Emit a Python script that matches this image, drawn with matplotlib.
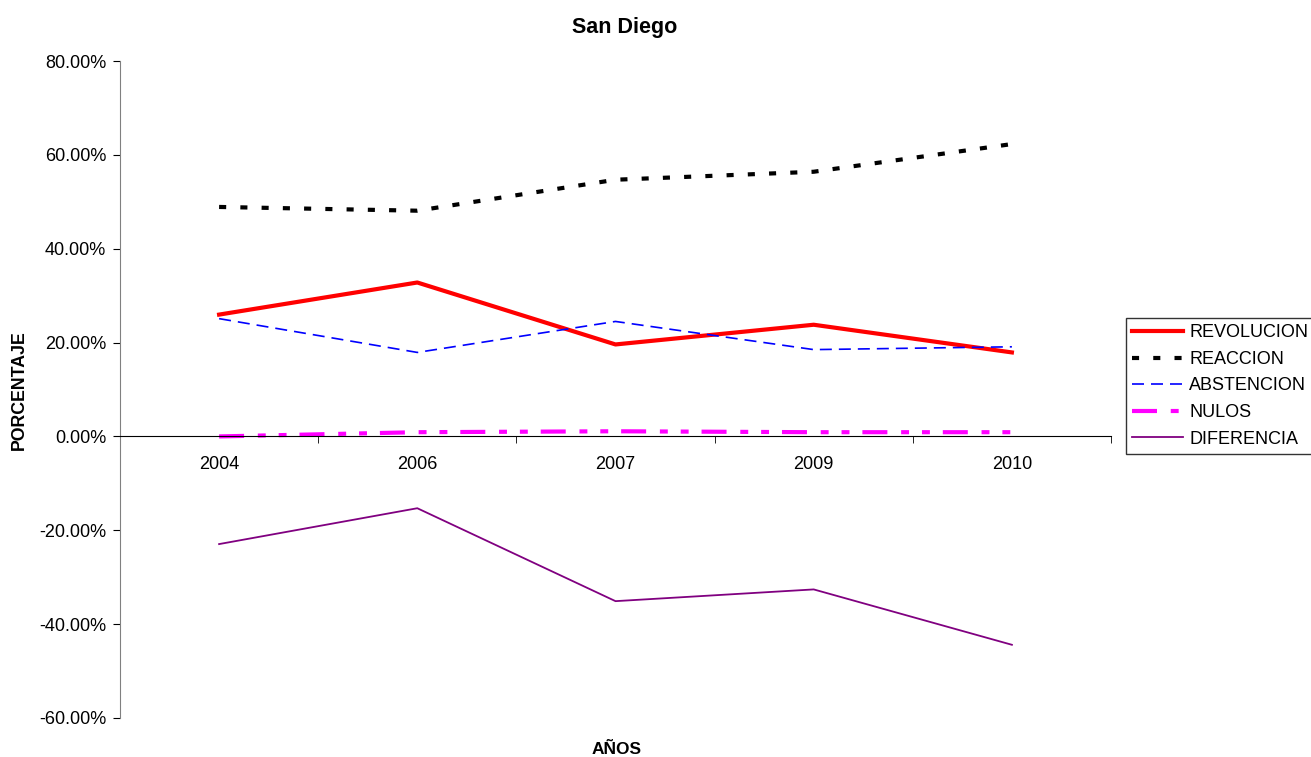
import numpy as np
import matplotlib.pyplot as plt
from matplotlib.ticker import FuncFormatter, FixedLocator

plt.rcParams['font.family'] = ['Liberation Sans', 'DejaVu Sans']

years = ['2004', '2006', '2007', '2009', '2010']
revolucion = [25.96, 32.8, 19.6, 23.8, 17.9]
reaccion = [48.9, 48.1, 54.7, 56.4, 62.3]
abstencion = [25.1, 17.9, 24.5, 18.5, 19.1]
nulos = [0.0, 0.9, 1.1, 0.9, 0.9]
diferencia = [r - a for r, a in zip(revolucion, reaccion)]

x = np.arange(len(years))

fig = plt.figure(figsize=(13.11, 7.57), dpi=100)
ax = fig.add_axes([120 / 1311, 39 / 757, 991 / 1311, 657 / 757])

ax.plot(x, revolucion, color='#ff0000', lw=3.0, label='REVOLUCION')
ax.plot(x, reaccion, color='black', lw=3.0, dashes=(1.7, 3.4), label='REACCION')
ax.plot(x, abstencion, color='#0000ff', lw=1.2, dashes=(7.2, 4.2), label='ABSTENCION')
ax.plot(x, nulos, color='#ff00ff', lw=3.0, dashes=(6, 3.3, 1.9, 3.1, 1.9, 3.1), label='NULOS')
ax.plot(x, diferencia, color='#800080', lw=1.3, label='DIFERENCIA')

ax.set_xlim(-0.5, len(years) - 0.5)
ax.set_ylim(-60, 80)
ax.set_yticks(np.arange(-60, 81, 20))
ax.yaxis.set_major_formatter(FuncFormatter(lambda v, p: f'{v:.2f}%'))

ax.spines['top'].set_visible(False)
ax.spines['right'].set_visible(False)
ax.spines['left'].set_color('#808080')
ax.spines['bottom'].set_position(('data', 0))
ax.spines['bottom'].set_color('black')

ax.set_xticks(x)
ax.set_xticklabels(years)
ax.xaxis.set_minor_locator(FixedLocator(np.arange(-0.5, len(years), 1.0)))
ax.tick_params(axis='x', which='major', length=0, pad=14, labelsize=13)
ax.tick_params(axis='x', which='minor', length=5, direction='out', color='black')
ax.tick_params(axis='y', length=5, direction='out', color='black', labelsize=13, pad=5)

fig.text(625 / 1311, 1 - 28 / 757, 'San Diego', ha='center', va='center',
         fontsize=15.5, fontweight='bold')
fig.text(19 / 1311, 1 - 390 / 757, 'PORCENTAJE', rotation=90, ha='center', va='center',
         fontsize=12.8, fontweight='bold')
fig.text(617 / 1311, 1 - 749 / 757, 'AÑOS', ha='center', va='center',
         fontsize=12.5, fontweight='bold')

leg = fig.legend(loc='upper left', bbox_to_anchor=(1126 / 1311, 1 - 318 / 757),
                 frameon=True, fancybox=False, fontsize=13, handlelength=2.8,
                 handletextpad=0.35, labelspacing=0.53, borderpad=0.35, borderaxespad=0)
leg.get_frame().set_edgecolor('black')
leg.get_frame().set_linewidth(1.0)

fig.savefig('out.png', dpi=100)
